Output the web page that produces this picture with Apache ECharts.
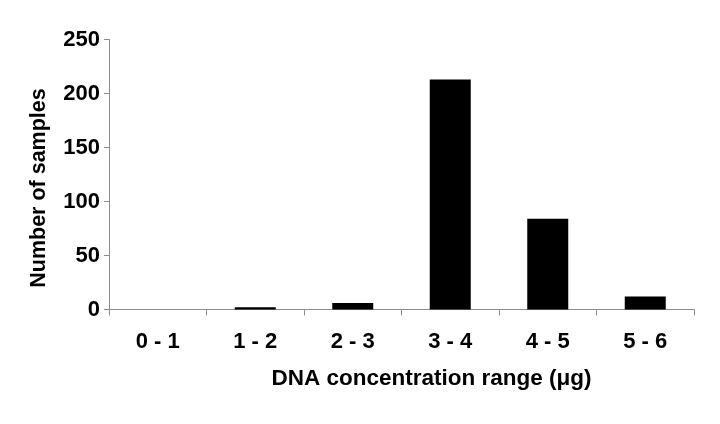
<!DOCTYPE html>
<html>
<head>
<meta charset="utf-8">
<script src="https://cdn.jsdelivr.net/npm/echarts@6/dist/echarts.min.js"></script>
<style>html,body{margin:0;padding:0;background:#fff}#c{width:720px;height:424px}</style>
</head>
<body>
<div id="c"></div>
<script>
const categories = ['0 - 1', '1 - 2', '2 - 3', '3 - 4', '4 - 5', '5 - 6'];
const samples = [0, 2, 6, 213, 84, 12];
const yTicks = { min: 0, max: 250, interval: 50 };

const font = "'Liberation Sans', Arial, sans-serif";
const chart = echarts.init(document.getElementById('c'), null, { renderer: 'canvas' });
chart.setOption({
  animation: false,
  backgroundColor: '#ffffff',
  grid: { left: 109, right: 26, top: 39.5, bottom: 114.5, containLabel: false },
  xAxis: {
    type: 'category',
    data: categories,
    boundaryGap: true,
    axisLine: { show: true, lineStyle: { color: '#8c8c8c', width: 1 } },
    axisTick: { show: true, alignWithLabel: false, length: 6, lineStyle: { color: '#8c8c8c' } },
    axisLabel: { color: '#000', fontFamily: font, fontWeight: 'bold', fontSize: 22, margin: 21 },
    name: 'DNA concentration range (μg)',
    nameLocation: 'middle',
    nameGap: 58,
    nameTextStyle: { color: '#000', fontFamily: font, fontWeight: 'bold', fontSize: 22.5, padding: [0, 0, 0, 60] },
    splitLine: { show: false }
  },
  yAxis: {
    type: 'value',
    min: yTicks.min,
    max: yTicks.max,
    interval: yTicks.interval,
    axisLine: { show: true, lineStyle: { color: '#8c8c8c', width: 1 } },
    axisTick: { show: true, length: 5, lineStyle: { color: '#8c8c8c' } },
    axisLabel: { color: '#000', fontFamily: font, fontWeight: 'bold', fontSize: 22, margin: 9 },
    splitLine: { show: false },
    name: 'Number of samples',
    nameLocation: 'middle',
    nameGap: 59,
    nameTextStyle: { color: '#000', fontFamily: font, fontWeight: 'bold', fontSize: 21.5, padding: [0, 27, 0, 0] }
  },
  series: [{
    type: 'bar',
    data: samples,
    barWidth: 41,
    itemStyle: { color: '#000000' }
  }]
});
</script>
</body>
</html>
